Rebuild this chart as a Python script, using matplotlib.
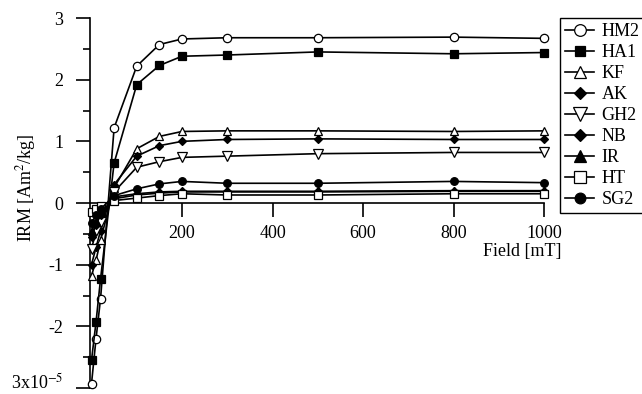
import matplotlib
matplotlib.use('Agg')
import matplotlib.pyplot as plt
import matplotlib.transforms as mtransforms
from matplotlib.ticker import FixedLocator, FixedFormatter, MultipleLocator

plt.rcParams['font.family'] = ['Liberation Serif', 'DejaVu Serif']
plt.rcParams['mathtext.fontset'] = 'stix'

# IRM acquisition data
field = [0, 10, 20, 50, 100, 150, 200, 300, 500, 800, 1000]
hm2 = [-2.93, -2.2, -1.55, 1.22, 2.22, 2.57, 2.66, 2.68, 2.68, 2.69, 2.67]
ha1 = [-2.55, -1.93, -1.23, 0.65, 1.92, 2.23, 2.38, 2.40, 2.45, 2.42, 2.44]
kf = [-1.18, -0.93, -0.6, 0.25, 0.88, 1.08, 1.16, 1.17, 1.17, 1.16, 1.17]
ak = [-1.0, -0.72, -0.45, 0.3, 0.76, 0.93, 1.0, 1.03, 1.04, 1.03, 1.03]
gh2 = [-0.74, -0.46, -0.3, 0.18, 0.58, 0.67, 0.74, 0.76, 0.8, 0.82, 0.82]
nb = [-0.55, -0.35, -0.2, 0.1, 0.15, 0.18, 0.19, 0.19, 0.19, 0.2, 0.2]
ir = [-0.45, -0.3, -0.15, 0.07, 0.13, 0.16, 0.18, 0.18, 0.18, 0.19, 0.19]
ht = [-0.15, -0.1, -0.05, 0.04, 0.08, 0.12, 0.15, 0.13, 0.13, 0.15, 0.15]
sg2 = [-0.33, -0.2, -0.1, 0.12, 0.23, 0.31, 0.35, 0.32, 0.32, 0.35, 0.33]

names = ['HM2', 'HA1', 'KF', 'AK', 'GH2', 'NB', 'IR', 'HT', 'SG2']
series = [hm2, ha1, kf, ak, gh2, nb, ir, ht, sg2]
markers = ['o', 's', '^', 'D', 'v', 'D', '^', 's', 'o']
filled = [False, True, False, True, False, True, True, False, True]
sizes = [6, 5.5, 6, 4.5, 7, 4.5, 6, 6, 5.5]

fig = plt.figure(figsize=(6.42, 3.94), dpi=100)
ax = fig.add_axes([0.1402, 0.0152, 0.7072, 0.9391])

for name, y, m, f, s in zip(names, series, markers, filled, sizes):
    ax.plot(field, y, color='black', lw=1.2, marker=m, ms=s,
            mfc='black' if f else 'white', mec='black', mew=0.9,
            label=name, clip_on=False, zorder=3)

ax.set_xlim(-3.3, 1000)
ax.set_ylim(-3, 3)

ax.spines['top'].set_visible(False)
ax.spines['right'].set_visible(False)
ax.spines['bottom'].set_position(('data', 0))
ax.spines['left'].set_linewidth(1.2)
ax.spines['bottom'].set_linewidth(1.2)

ax.xaxis.set_major_locator(FixedLocator([200, 400, 600, 800, 1000]))
ax.yaxis.set_major_locator(FixedLocator([-3, -2, -1, 0, 1, 2, 3]))
ax.yaxis.set_major_formatter(FixedFormatter(['3x10$^{-5}$', '-2', '-1', '0', '1', '2', '3']))
ax.yaxis.set_minor_locator(MultipleLocator(0.5))
ax.tick_params(axis='x', direction='out', length=10, width=1.2, pad=6, labelsize=13)
ax.tick_params(axis='y', which='major', direction='out', length=10, width=1.2, pad=9, labelsize=13)
ax.tick_params(axis='y', which='minor', direction='out', length=5, width=1.2)

# nudge the bottom tick label up so it stays inside the figure
fig.canvas.draw()
bottom_label = ax.get_yticklabels()[0]
bottom_label.set_transform(bottom_label.get_transform() +
                           mtransforms.ScaledTranslation(0, 5 / 72, fig.dpi_scale_trans))

ax.set_ylabel('IRM [Am$^2$/kg]', fontsize=13)
ax.yaxis.set_label_coords(-0.115, 0.54)
ax.text(0.952, 0.368, 'Field [mT]', transform=ax.transAxes, ha='center', va='center', fontsize=13)

leg = fig.legend(loc='upper left', bbox_to_anchor=(0.872, 0.955), fontsize=13,
                 frameon=True, fancybox=False, edgecolor='black', framealpha=1,
                 markerscale=1.4, handlelength=1.6, labelspacing=0.22,
                 handletextpad=0.4, borderpad=0.3, borderaxespad=0)
leg.get_frame().set_linewidth(1.0)

fig.savefig('out.png', dpi=100)
